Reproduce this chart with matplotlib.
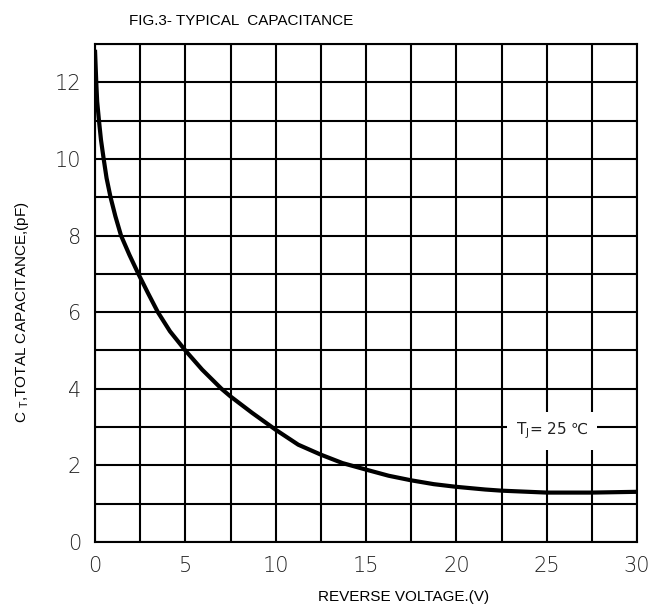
import matplotlib
matplotlib.use("Agg")
import matplotlib.pyplot as plt
import numpy as np

# Data
voltage = [0.0, 0.07, 0.12, 0.22, 0.33, 0.48, 0.64, 0.86, 1.13, 1.44, 1.9, 2.4,
           2.93, 3.48, 4.15, 5.0, 5.93, 7.0, 7.5, 8.7, 10.0, 11.25, 12.5, 13.7,
           15.0, 16.25, 17.5, 18.75, 20.0, 21.6, 22.5, 25.0, 27.5, 30.0]
capacitance = [12.85, 12.0, 11.5, 11.0, 10.5, 10.0, 9.5, 9.0, 8.5, 8.0, 7.5, 7.0,
               6.5, 6.0, 5.5, 5.0, 4.5, 4.0, 3.8, 3.37, 2.93, 2.54, 2.28, 2.06,
               1.89, 1.73, 1.61, 1.51, 1.44, 1.37, 1.34, 1.29, 1.29, 1.31]
x_ticks = [0, 5, 10, 15, 20, 25, 30]
y_ticks = [0, 2, 4, 6, 8, 10, 12]
x_grid = [2.5, 7.5, 12.5, 17.5, 22.5, 27.5]
y_grid = [1, 3, 5, 7, 9, 11, 13]

plt.rcParams['font.family'] = ['Liberation Sans', 'DejaVu Sans']

fig = plt.figure(figsize=(6.49, 6.08), dpi=100)
ax = fig.add_axes([95/649, 1-542/608, 542/649, 498/608])

ax.plot(voltage, capacitance, color='black', lw=3.0, solid_capstyle='butt',
        solid_joinstyle='round', zorder=3)

ax.set_xlim(0, 30)
ax.set_ylim(0, 13)
ax.set_xticks(x_ticks)
ax.set_yticks(y_ticks)
ax.set_xticks(x_grid, minor=True)
ax.set_yticks(y_grid, minor=True)
ax.grid(True, which='both', color='black', lw=1.5)
ax.set_axisbelow(True)
ax.tick_params(which='both', length=0)
ax.tick_params(axis='x', pad=10, labelsize=15, colors='#222222')
ax.tick_params(axis='y', pad=10, labelsize=15, colors='#222222')
for lbl in ax.get_xticklabels() + ax.get_yticklabels():
    lbl.set_family(['DejaVu Sans'])
    lbl.set_fontweight('light')
for s in ax.spines.values():
    s.set_linewidth(1.5)
    s.set_color('black')

ax.text(25.3, 2.9, 'T$_\\mathregular{J}$= 25 \u2103', fontsize=11, ha='center', va='center',
        color='#222222', family=['DejaVu Sans'],
        bbox=dict(facecolor='white', edgecolor='none', pad=6), zorder=4)

fig.text(129/649, 1-21/608, 'FIG.3- TYPICAL  CAPACITANCE', fontsize=11, ha='left', va='center')
fig.text(404/649, 1-597/608, 'REVERSE VOLTAGE.(V)', fontsize=11, ha='center', va='center')
fig.text(22/649, 1-312/608, 'C $_\\mathregular{T}$,TOTAL CAPACITANCE,(pF)', fontsize=11,
         ha='center', va='center', rotation=90)

fig.savefig('out.png', dpi=100)
